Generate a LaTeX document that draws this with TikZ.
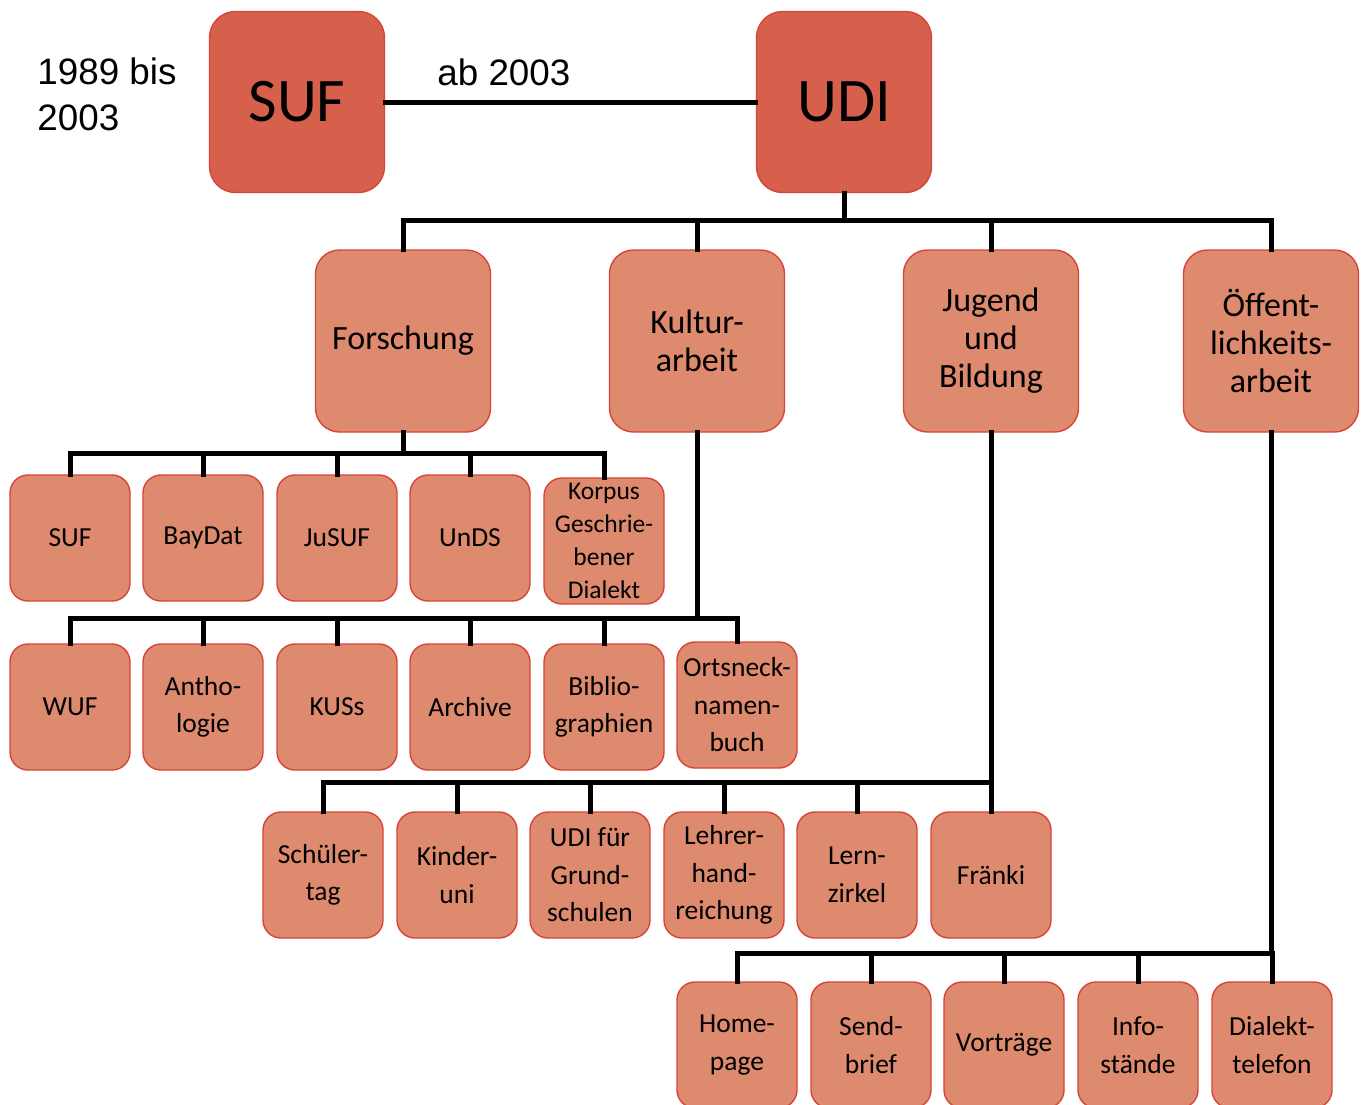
\documentclass[tikz,border=0pt]{standalone}
\usepackage{fontspec}
\setmainfont{Carlito}
\newfontfamily\arialf{Liberation Sans}
\definecolor{topfill}{HTML}{D6604C}
\definecolor{subfill}{HTML}{DE8A6E}
\definecolor{boxline}{HTML}{D8443A}
\tikzset{
  topbox/.style={draw=boxline, line width=0.7pt, fill=topfill, rounded corners=13pt,
    minimum width=87.5pt, minimum height=90.5pt, inner sep=0pt,
    font=\fontsize{31}{36}\selectfont},
  midbox/.style={draw=boxline, line width=0.7pt, fill=subfill, rounded corners=12pt,
    minimum width=87.5pt, minimum height=91pt, inner sep=0pt, align=center,
    font=\fontsize{17}{19}\selectfont},
  smallbox/.style={draw=boxline, line width=0.7pt, fill=subfill, rounded corners=9pt,
    minimum width=60pt, minimum height=63pt, inner sep=0pt, align=center,
    font=\fontsize{13.75}{18.75}\selectfont},
  conn/.style={line width=2.5pt, line cap=rect, line join=miter},
  yeartext/.style={inner sep=0pt, align=left, font=\arialf\fontsize{18.4}{23}\selectfont}
}
\begin{document}
\begin{tikzpicture}[x=0.5pt,y=-0.5pt]
\clip (0,0) rectangle (1365,1104);
\fill[white] (0,0) rectangle (1365,1104);
% top
\node[topbox] (suf) at (297,102) {SUF};
\node[topbox] (udi) at (844,102) {UDI};
\node[yeartext, anchor=north west] (years) at (37,57) {1989 bis\\2003};
\node[yeartext, anchor=west] (ab) at (437,72) {ab 2003};
% level 2
\node[midbox] (forsch) at (403,341) {Forschung};
\node[midbox] (kultur) at (697,341) {Kultur-\\arbeit};
\node[midbox] (jugend) at (991,341) {Jugend\\und\\Bildung};
\node[midbox] (oeff) at (1271,341) {Öffent-\\lichkeits-\\arbeit};
% row 3
\node[smallbox] (r3a) at (70,538) {SUF};
\node[smallbox] (r3b) at (203,538) {BayDat};
\node[smallbox] (r3c) at (337,538) {JuSUF};
\node[smallbox] (r3d) at (470,538) {UnDS};
\node[smallbox, font=\fontsize{12.75}{16.5}\selectfont] (r3e) at (604,541) {Korpus\\Geschrie-\\bener\\Dialekt};
% row 4
\node[smallbox] (r4a) at (70,707) {WUF};
\node[smallbox] (r4b) at (203,707) {Antho-\\logie};
\node[smallbox] (r4c) at (337,707) {KUSs};
\node[smallbox] (r4d) at (470,707) {Archive};
\node[smallbox] (r4e) at (604,707) {Biblio-\\graphien};
\node[smallbox] (r4f) at (737,705) {Ortsneck-\\namen-\\buch};
% row 5
\node[smallbox] (r5a) at (323,875) {Schüler-\\tag};
\node[smallbox] (r5b) at (457,875) {Kinder-\\uni};
\node[smallbox] (r5c) at (590,875) {UDI für\\Grund-\\schulen};
\node[smallbox] (r5d) at (724,875) {Lehrer-\\hand-\\reichung};
\node[smallbox] (r5e) at (857,875) {Lern-\\zirkel};
\node[smallbox] (r5f) at (991,875) {Fränki};
% row 6
\node[smallbox] (r6a) at (737,1045) {Home-\\page};
\node[smallbox] (r6b) at (871,1045) {Send-\\brief};
\node[smallbox] (r6c) at (1004,1045) {Vorträge};
\node[smallbox] (r6d) at (1138,1045) {Info-\\stände};
\node[smallbox] (r6e) at (1272,1045) {Dialekt-\\telefon};
% bus coordinates
\coordinate (b1) at (840,220);
\coordinate (b2) at (403,453);
\coordinate (b3) at (697,618);
\coordinate (b4) at (991,782);
\coordinate (b5) at (1271,953);
% connectors
\draw[conn] (suf.east) -- (udi.west);
\draw[conn] (udi.south) -- (udi.south |- b1);
\draw[conn] (forsch.north |- b1) -- (oeff.north |- b1);
\foreach \n in {forsch,kultur,jugend,oeff} \draw[conn] (\n.north |- b1) -- (\n.north);
\draw[conn] (forsch.south) -- (b2);
\draw[conn] (r3a.north |- b2) -- (r3e.north |- b2);
\foreach \n in {r3a,r3b,r3c,r3d,r3e} \draw[conn] (\n.north |- b2) -- (\n.north);
\draw[conn] (kultur.south) -- (b3);
\draw[conn] (r4a.north |- b3) -- (r4f.north |- b3);
\foreach \n in {r4a,r4b,r4c,r4d,r4e,r4f} \draw[conn] (\n.north |- b3) -- (\n.north);
\draw[conn] (jugend.south) -- (b4);
\draw[conn] (r5a.north |- b4) -- (r5f.north |- b4);
\foreach \n in {r5a,r5b,r5c,r5d,r5e,r5f} \draw[conn] (\n.north |- b4) -- (\n.north);
\draw[conn] (oeff.south) -- (b5);
\draw[conn] (r6a.north |- b5) -- (r6e.north |- b5);
\foreach \n in {r6a,r6b,r6c,r6d,r6e} \draw[conn] (\n.north |- b5) -- (\n.north);
\end{tikzpicture}
\end{document}
